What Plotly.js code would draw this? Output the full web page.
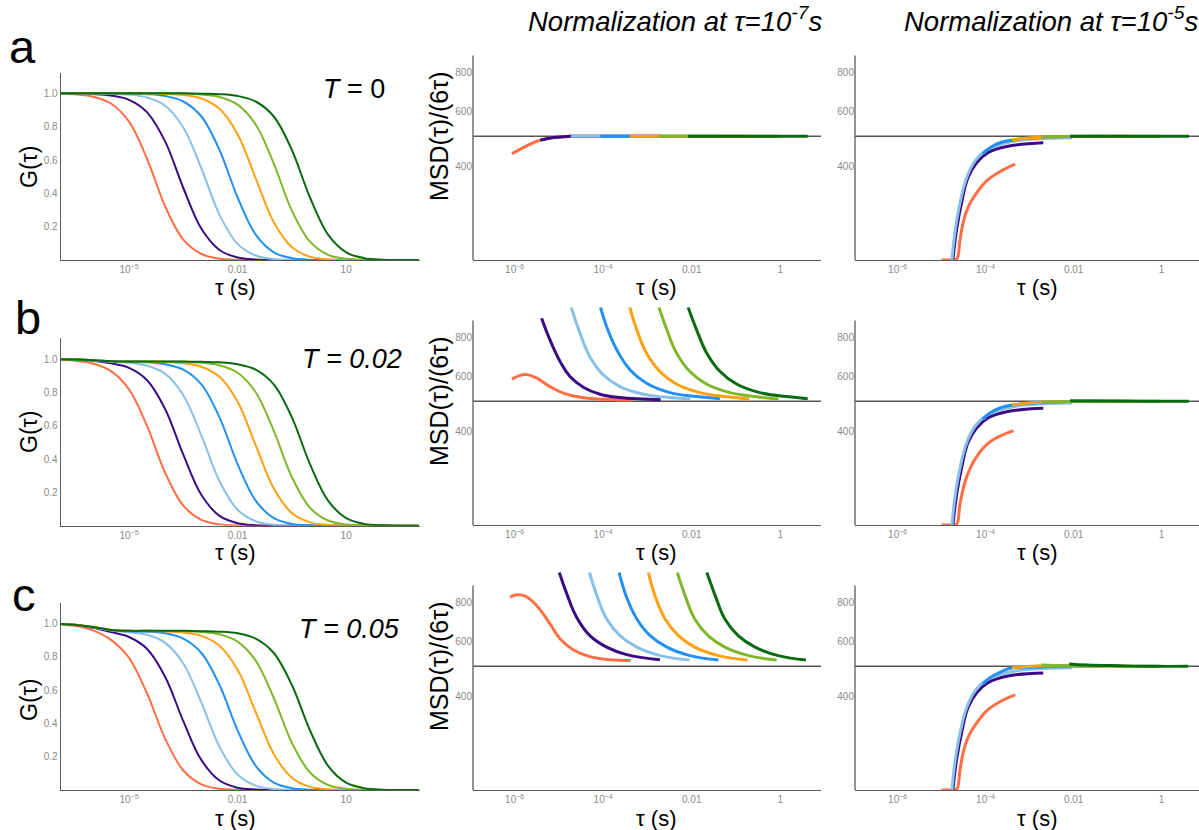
<!DOCTYPE html>
<html><head><meta charset="utf-8">
<script src="https://cdn.plot.ly/plotly-3.0.1.min.js"></script>
<style>html,body{margin:0;padding:0;background:#fff}</style>
</head><body><div id="chart" style="width:1199px;height:830px"></div>
<script>
// ---------- categories / styling lists ----------
const curveNames = ['red','purple','lightblue','blue','orange','green','darkgreen'];
const curveColors = ['#FF6E45','#3A0C84','#88C0E8','#2290F0','#FFA012','#80B72A','#0A6A0F'];
const rowLabels = ['a','b','c'];
const tripletLabels = ['<i>T</i> = 0','<i>T = 0.02</i>','<i>T = 0.05</i>'];
const colTitles = ['Normalization at τ=10<sup>-7</sup>s','Normalization at τ=10<sup>-5</sup>s'];
const gTickVals = [1e-5, 0.01, 10];
const gTickText = ['10<sup>−5</sup>','0.01','10'];
const gYTickVals = [0.2,0.4,0.6,0.8,1.0];
const gYTickText = ['0.2','0.4','0.6','0.8','1.0'];
const mTickVals = [1e-6, 1e-4, 0.01, 1];
const mTickText = ['10<sup>−6</sup>','10<sup>−4</sup>','0.01','1'];
const mYTickVals = [400,600,800];
const mYTickText = ['400','600','800'];
const refValue = 500;

// ---------- G(tau) panels ----------
const tauG = [1e-7,3.16e-7,1e-6,3.16e-6,1e-5,3.16e-5,1e-4,3.16e-4,1e-3,3.16e-3,0.01,0.0316,0.1,0.316,1,3.16,10,31.6,100,316,1000];
const gA_red = [0.998,0.994,0.980,0.939,0.830,0.606,0.321,0.122,0.036,0.008,0.0015,0,0,0,0,0,0,0,0,0,0];
const gA_purple = [1.0,0.999,0.996,0.987,0.961,0.886,0.710,0.432,0.187,0.060,0.015,0.003,0,0,0,0,0,0,0,0,0];
const gA_lightblue = [1.0,1.0,0.999,0.997,0.992,0.975,0.925,0.795,0.549,0.271,0.097,0.027,0.006,0.001,0,0,0,0,0,0,0];
const gA_blue = [1.0,1.0,1.0,1.0,0.998,0.995,0.984,0.951,0.861,0.660,0.375,0.152,0.046,0.011,0.002,0,0,0,0,0,0];
const gA_orange = [1.0,1.0,1.0,1.0,1.0,0.999,0.997,0.990,0.969,0.907,0.755,0.490,0.226,0.077,0.020,0.004,0.001,0,0,0,0];
const gA_green = [1.0,1.0,1.0,1.0,1.0,1.0,0.999,0.998,0.993,0.978,0.932,0.813,0.578,0.296,0.110,0.031,0.007,0.0013,0,0,0];
const gA_darkgreen = [1.0,1.0,1.0,1.0,1.0,1.0,1.0,1.0,0.998,0.995,0.984,0.951,0.861,0.660,0.375,0.152,0.046,0.011,0.002,0,0];

const gB_red = [0.997,0.991,0.973,0.927,0.818,0.597,0.316,0.120,0.035,0.008,0.0015,0,0,0,0,0,0,0,0,0,0];
const gB_purple = [0.999,0.996,0.989,0.974,0.947,0.873,0.699,0.426,0.184,0.059,0.015,0.003,0,0,0,0,0,0,0,0,0];
const gB_lightblue = [0.999,0.997,0.991,0.984,0.977,0.960,0.911,0.783,0.541,0.267,0.096,0.027,0.006,0.001,0,0,0,0,0,0,0];
const gB_blue = [0.999,0.997,0.993,0.987,0.983,0.980,0.969,0.937,0.848,0.650,0.369,0.150,0.045,0.011,0.002,0,0,0,0,0,0];
const gB_orange = [0.999,0.997,0.993,0.987,0.985,0.984,0.982,0.975,0.954,0.893,0.744,0.483,0.223,0.076,0.020,0.004,0.001,0,0,0,0];
const gB_green = [0.999,0.997,0.993,0.987,0.985,0.985,0.984,0.983,0.978,0.963,0.918,0.801,0.569,0.292,0.108,0.031,0.007,0.001,0,0,0];
const gB_darkgreen = [0.999,0.997,0.993,0.987,0.985,0.985,0.985,0.985,0.983,0.980,0.969,0.937,0.848,0.650,0.369,0.150,0.045,0.011,0.002,0,0];

const gC_red = [0.995,0.985,0.958,0.901,0.793,0.579,0.307,0.117,0.034,0.008,0.0014,0,0,0,0,0,0,0,0,0,0];
const gC_purple = [0.997,0.990,0.974,0.948,0.918,0.846,0.678,0.413,0.179,0.057,0.014,0.003,0,0,0,0,0,0,0,0,0];
const gC_lightblue = [0.997,0.991,0.977,0.957,0.947,0.931,0.883,0.759,0.524,0.259,0.093,0.026,0.006,0.001,0,0,0,0,0,0,0];
const gC_blue = [0.997,0.991,0.978,0.960,0.953,0.950,0.940,0.908,0.822,0.630,0.358,0.145,0.044,0.011,0.002,0,0,0,0,0,0];
const gC_orange = [0.997,0.991,0.978,0.960,0.955,0.954,0.952,0.945,0.925,0.866,0.721,0.468,0.216,0.074,0.019,0.004,0.001,0,0,0,0];
const gC_green = [0.997,0.991,0.978,0.960,0.955,0.955,0.954,0.953,0.948,0.934,0.890,0.776,0.552,0.283,0.105,0.030,0.007,0.001,0,0,0];
const gC_darkgreen = [0.997,0.991,0.978,0.960,0.955,0.955,0.955,0.955,0.953,0.950,0.940,0.908,0.822,0.630,0.358,0.145,0.044,0.011,0.002,0,0];

// ---------- MSD/(6 tau), normalization at 1e-7 s ----------
const m2A_red_t = [8.7e-7,1.32e-6,2.24e-6,3.8e-6,7.6e-6,1.78e-5,6.3e-5,4.4e-4];
const m2A_red_v = [440,454,472,486,496,500,500,500];
const m2A_purple_t = [3.8e-6,7.6e-6,1.78e-5,6.3e-5,4.0e-4,2.0e-3];
const m2A_purple_v = [486,496,500,500,500,500];
const m2A_lightblue_t = [1.86e-5,3.2e-4,9.3e-3];
const m2A_lightblue_v = [500,500,500];
const m2A_blue_t = [8.7e-5,3.2e-3,4.4e-2];
const m2A_blue_v = [500,500,500];
const m2A_orange_t = [4.0e-4,1.0e-2,0.2];
const m2A_orange_v = [500,500,500];
const m2A_green_t = [1.82e-3,3.2e-2,0.91];
const m2A_green_v = [500,500,500];
const m2A_darkgreen_t = [8.3e-3,0.2,4.17];
const m2A_darkgreen_v = [500,500,500];

const m2B_red_t = [8.7e-7,1.74e-6,3.16e-6,6.3e-6,1.26e-5,3.0e-5,1.0e-4,4.4e-4];
const m2B_red_v = [589,609,593,557,531,515,508,505];
const m2B_purple_t = [4.07e-6,6.3e-6,1.07e-5,1.78e-5,3.55e-5,8.5e-5,2.4e-4,2.0e-3];
const m2B_purple_v = [923,786,670,600,555,527,514,506];
const m2B_lightblue_t = [1.9e-5,3.0e-5,5.0e-5,1.0e-4,2.4e-4,8.1e-4,3.24e-3,9.3e-3];
const m2B_lightblue_v = [1000,826,695,608,557,527,514,509];
const m2B_blue_t = [8.7e-5,1.2e-4,2.04e-4,4.07e-4,9.55e-4,3.24e-3,1.29e-2,4.37e-2];
const m2B_blue_v = [1000,867,730,630,571,533,518,510];
const m2B_orange_t = [4.0e-4,5.75e-4,9.55e-4,1.91e-3,4.57e-3,1.55e-2,6.17e-2,0.2];
const m2B_orange_v = [1000,847,713,623,567,533,517,509];
const m2B_green_t = [1.82e-3,2.75e-3,4.57e-3,9.1e-3,2.19e-2,7.4e-2,0.295,0.91];
const m2B_green_v = [1000,847,713,623,567,533,517,509];
const m2B_darkgreen_t = [8.3e-3,1.29e-2,2.19e-2,4.37e-2,0.105,0.347,1.4,4.17];
const m2B_darkgreen_v = [1000,847,713,623,567,533,518,510];

const m2C_red_t = [7.9e-7,1.12e-6,1.74e-6,3.16e-6,6.3e-6,1.07e-5,2.14e-5,5.0e-5,1.45e-4,4.2e-4];
const m2C_red_v = [832,847,839,782,684,612,564,537,525,522];
const m2C_purple_t = [1.02e-5,1.51e-5,2.51e-5,5.0e-5,1.2e-4,3.39e-4,1.91e-3];
const m2C_purple_v = [1000,853,718,627,576,545,525];
const m2C_lightblue_t = [4.9e-5,7.2e-5,1.2e-4,2.4e-4,5.75e-4,1.95e-3,8.9e-3];
const m2C_lightblue_v = [1000,842,709,627,576,541,524];
const m2C_blue_t = [2.29e-4,3.39e-4,5.75e-4,1.15e-3,2.75e-3,9.1e-3,4.0e-2];
const m2C_blue_v = [1000,832,709,627,576,541,524];
const m2C_orange_t = [1.05e-3,1.48e-3,2.51e-3,5.0e-3,1.17e-2,4.0e-2,0.182];
const m2C_orange_v = [1000,842,709,627,576,541,524];
const m2C_green_t = [4.7e-3,7.1e-3,1.17e-2,2.34e-2,5.6e-2,0.191,0.83];
const m2C_green_v = [1000,842,709,627,576,541,524];
const m2C_darkgreen_t = [2.19e-2,3.39e-2,5.6e-2,0.112,0.269,0.90,3.8];
const m2C_darkgreen_v = [1000,842,709,627,576,541,524];

// ---------- MSD/(6 tau), normalization at 1e-5 s ----------
const m3A_red_t = [1.0e-5,1.82e-5,2.19e-5,2.63e-5,3.09e-5,3.98e-5,6.3e-5,1.05e-4,2.11e-4,4.7e-4];
const m3A_red_v = [201,201,202,234,265,296,330,360,385,407];
const m3A_purple_t = [1.78e-5,2.19e-5,2.85e-5,3.98e-5,6.3e-5,1.15e-4,3.02e-4,2.04e-3];
const m3A_purple_v = [198,252,307,369,412,444,464,477];
const m3A_lightblue_t = [1.7e-5,2.0e-5,2.63e-5,3.72e-5,5.75e-5,1.05e-4,3.02e-4,1.0e-3,9.3e-3];
const m3A_lightblue_v = [198,246,307,369,417,452,477,489,495];
const m3A_blue_t = [8.7e-5,1.26e-4,2.11e-4,3.89e-4,1.0e-3,3.16e-3,1.0e-2,4.37e-2];
const m3A_blue_v = [440,460,477,486,493,497,499,500];
const m3A_orange_t = [4.0e-4,1.0e-3,1.82e-3,1.0e-2,0.2];
const m3A_orange_v = [487,494,497,499.5,500];
const m3A_green_t = [1.82e-3,1.0e-2,0.1,0.91];
const m3A_green_v = [498,500,500,500];
const m3A_darkgreen_t = [8.3e-3,0.1,1.0,4.17];
const m3A_darkgreen_v = [500,500,500,500];

const m3B_red_t = [1.0e-5,1.82e-5,2.19e-5,2.63e-5,3.72e-5,6.3e-5,1.26e-4,4.3e-4];
const m3B_red_v = [201,201,202,236,287,333,371,403];
const m3B_purple_t = [1.78e-5,2.19e-5,2.85e-5,3.98e-5,6.3e-5,1.15e-4,3.02e-4,2.04e-3];
const m3B_purple_v = [198,252,307,369,411,443,463,475];
const m3B_lightblue_t = [1.7e-5,2.0e-5,2.63e-5,3.72e-5,5.75e-5,1.05e-4,3.02e-4,1.0e-3,9.3e-3];
const m3B_lightblue_v = [198,246,307,369,416,451,476,488,494];
const m3B_blue_t = [8.7e-5,1.26e-4,2.11e-4,3.89e-4,1.0e-3,3.16e-3,1.0e-2,4.37e-2];
const m3B_blue_v = [437,459,476,486,493,497,499,500];
const m3B_orange_t = [4.0e-4,1.0e-3,1.82e-3,1.0e-2,0.2];
const m3B_orange_v = [487,494,497,499.5,500];
const m3B_green_t = [1.82e-3,1.0e-2,0.1,0.91];
const m3B_green_v = [497,499,500,500];
const m3B_darkgreen_t = [8.3e-3,0.1,1.0,4.17];
const m3B_darkgreen_v = [502,501,500,500];

const m3C_red_t = [1.0e-5,1.82e-5,2.19e-5,2.63e-5,3.09e-5,3.98e-5,6.3e-5,1.05e-4,2.11e-4,4.7e-4];
const m3C_red_v = [201,201,202,234,265,296,330,360,385,405];
const m3C_purple_t = [1.78e-5,2.19e-5,2.85e-5,3.98e-5,6.3e-5,1.15e-4,3.02e-4,2.04e-3];
const m3C_purple_v = [198,252,307,369,412,444,465,476];
const m3C_lightblue_t = [1.7e-5,2.0e-5,2.63e-5,3.72e-5,5.75e-5,1.05e-4,3.02e-4,1.0e-3,9.3e-3];
const m3C_lightblue_v = [198,246,307,369,417,452,477,489,495];
const m3C_blue_t = [8.7e-5,1.26e-4,2.11e-4,3.55e-4,1.0e-3,3.16e-3,1.0e-2,4.37e-2];
const m3C_blue_v = [439,460,478,493,497,499,500,500];
const m3C_orange_t = [4.0e-4,1.0e-3,1.66e-3,1.0e-2,0.2];
const m3C_orange_v = [494,500,502,502,500];
const m3C_green_t = [1.82e-3,8.3e-3,0.1,0.91];
const m3C_green_v = [505,502,500,500];
const m3C_darkgreen_t = [7.9e-3,2.0e-2,0.112,0.65,4.0];
const m3C_darkgreen_v = [509,505,502,500,500];

// ---------- assemble ----------
const gRows = [
  [gA_red,gA_purple,gA_lightblue,gA_blue,gA_orange,gA_green,gA_darkgreen],
  [gB_red,gB_purple,gB_lightblue,gB_blue,gB_orange,gB_green,gB_darkgreen],
  [gC_red,gC_purple,gC_lightblue,gC_blue,gC_orange,gC_green,gC_darkgreen]
];
const m2Rows = [
  [[m2A_red_t,m2A_red_v],[m2A_purple_t,m2A_purple_v],[m2A_lightblue_t,m2A_lightblue_v],[m2A_blue_t,m2A_blue_v],[m2A_orange_t,m2A_orange_v],[m2A_green_t,m2A_green_v],[m2A_darkgreen_t,m2A_darkgreen_v]],
  [[m2B_red_t,m2B_red_v],[m2B_purple_t,m2B_purple_v],[m2B_lightblue_t,m2B_lightblue_v],[m2B_blue_t,m2B_blue_v],[m2B_orange_t,m2B_orange_v],[m2B_green_t,m2B_green_v],[m2B_darkgreen_t,m2B_darkgreen_v]],
  [[m2C_red_t,m2C_red_v],[m2C_purple_t,m2C_purple_v],[m2C_lightblue_t,m2C_lightblue_v],[m2C_blue_t,m2C_blue_v],[m2C_orange_t,m2C_orange_v],[m2C_green_t,m2C_green_v],[m2C_darkgreen_t,m2C_darkgreen_v]]
];
const m3Rows = [
  [[m3A_red_t,m3A_red_v],[m3A_purple_t,m3A_purple_v],[m3A_lightblue_t,m3A_lightblue_v],[m3A_blue_t,m3A_blue_v],[m3A_orange_t,m3A_orange_v],[m3A_green_t,m3A_green_v],[m3A_darkgreen_t,m3A_darkgreen_v]],
  [[m3B_red_t,m3B_red_v],[m3B_purple_t,m3B_purple_v],[m3B_lightblue_t,m3B_lightblue_v],[m3B_blue_t,m3B_blue_v],[m3B_orange_t,m3B_orange_v],[m3B_green_t,m3B_green_v],[m3B_darkgreen_t,m3B_darkgreen_v]],
  [[m3C_red_t,m3C_red_v],[m3C_purple_t,m3C_purple_v],[m3C_lightblue_t,m3C_lightblue_v],[m3C_blue_t,m3C_blue_v],[m3C_orange_t,m3C_orange_v],[m3C_green_t,m3C_green_v],[m3C_darkgreen_t,m3C_darkgreen_v]]
];

const W = 1199, H = 830;
const PX = v => v / W;
const PY = v => 1 - v / H;
const FONT = 'Liberation Sans, Arial, Helvetica, sans-serif';
const AXC = '#5a5a5a';
const TICKF = {family: FONT, size: 10, color: '#8a8a8a'};

// pixel layout (left, right) per column, (bottom, top) per row
const colX = [[61,420],[473,821],[855,1199]];
const gRowY = [[260,72.5],[525.7,338.2],[790,602.5]];
const mRowY = [[260,42.3],[525,307.3],[790,572.3]];
const mYRange = [2.303, 3.0];
const mAxisTop = 0.9397;

const traces = [];
const layout = {
  width: W, height: H, margin: {l:0,r:0,t:0,b:0},
  paper_bgcolor: '#fff', plot_bgcolor: 'rgba(0,0,0,0)',
  showlegend: false, font: {family: FONT, color: '#000'},
  shapes: [], annotations: []
};
const id = p => (p === 1 ? '' : String(p));

for (let r = 0; r < 3; r++) {
  for (let c = 0; c < 3; c++) {
    const p = r * 3 + c + 1;
    const xa = 'xaxis' + id(p), ya = 'yaxis' + id(p);
    const xr = 'x' + id(p), yr = 'y' + id(p);
    const base = {showgrid:false, zeroline:false, ticks:'', tickfont: TICKF, fixedrange:true};
    if (c === 0) {
      layout[xa] = Object.assign({}, base, {type:'log', range:[-6.88,3.04], domain:[PX(colX[0][0]),PX(colX[0][1])], anchor:yr,
        showline:true, linecolor:AXC, linewidth:1.3, tickmode:'array', tickvals:gTickVals, ticktext:gTickText});
      layout[ya] = Object.assign({}, base, {range:[0,1.125], domain:[PY(gRowY[r][0]),PY(gRowY[r][1])], anchor:xr,
        showline:true, linecolor:AXC, linewidth:1.3, tickmode:'array', tickvals:gYTickVals, ticktext:gYTickText});
      gRows[r].forEach((vals, k) => traces.push({x: tauG, y: vals, xaxis: xr, yaxis: yr, type:'scatter', mode:'lines',
        name: curveNames[k], line:{color: curveColors[k], width:2, shape:'spline', smoothing:1}, hoverinfo:'skip'}));
    } else {
      const xrange = c === 1 ? [-6.94,0.92] : [-6.97,0.85];
      layout[xa] = Object.assign({}, base, {type:'log', range:xrange, domain:[PX(colX[c][0]),PX(colX[c][1])], anchor:yr,
        showline:true, linecolor:AXC, linewidth:1.3, tickmode:'array', tickvals:mTickVals, ticktext:mTickText});
      layout[ya] = Object.assign({}, base, {type:'log', range:mYRange, domain:[PY(mRowY[r][0]),PY(mRowY[r][1])], anchor:xr,
        showline:false, tickmode:'array', tickvals:mYTickVals, ticktext:mYTickText});
      layout.shapes.push({type:'line', xref: xr + ' domain', yref: yr + ' domain', x0:0, x1:0, y0:0, y1:mAxisTop,
        line:{color:AXC, width:1.3}});
      layout.shapes.push({type:'line', xref: xr + ' domain', yref: yr, x0:0, x1:1, y0:refValue, y1:refValue,
        line:{color:'#555', width:1.4}, layer:'below'});
      const rows = c === 1 ? m2Rows : m3Rows;
      rows[r].forEach((pair, k) => traces.push({x: pair[0], y: pair[1], xaxis: xr, yaxis: yr, type:'scatter', mode:'lines',
        name: curveNames[k], line:{color: curveColors[k], width:3, shape:'spline', smoothing:1.2}, hoverinfo:'skip'}));
    }
  }
}

const ann = (x, y, text, size, extra) => Object.assign({xref:'paper', yref:'paper', x: PX(x), y: PY(y), text: text,
  showarrow:false, xanchor:'center', yanchor:'middle', font:{family:FONT, size:size, color:'#000'}}, extra || {});

// panel letters
const letterPos = [[22.5,47],[27.5,317],[24,594]];
rowLabels.forEach((t, r) => layout.annotations.push(ann(letterPos[r][0], letterPos[r][1], t, 47)));
// triplet labels
const tPos = [[354,88.5],[352,359],[349,629]];
tripletLabels.forEach((t, r) => layout.annotations.push(ann(tPos[r][0], tPos[r][1], t, 27)));
// column titles
layout.annotations.push(ann(675, 19, '<i>' + colTitles[0] + '</i>', 27.5));
layout.annotations.push(ann(1051, 19, '<i>' + colTitles[1] + '</i>', 27.5));
// axis titles
const gTitleY = [167, 432, 700];
const mTitleY = [137, 402, 667];
const xTitleY = [287, 552, 818];
for (let r = 0; r < 3; r++) {
  layout.annotations.push(ann(29, gTitleY[r], 'G(τ)', 23, {textangle:-90}));
  layout.annotations.push(ann(439, mTitleY[r], 'MSD(τ)/(6τ)', 25, {textangle:-90}));
  layout.annotations.push(ann(235, xTitleY[r], 'τ (s)', 22));
  layout.annotations.push(ann(656, xTitleY[r], 'τ (s)', 22));
  layout.annotations.push(ann(1037, xTitleY[r], 'τ (s)', 22));
}

Plotly.newPlot('chart', traces, layout, {staticPlot:true, displayModeBar:false});
</script></body></html>
